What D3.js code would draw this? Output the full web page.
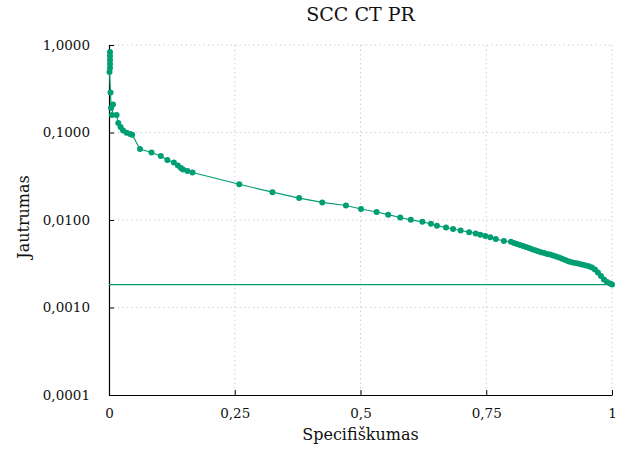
<!DOCTYPE html>
<html>
<head>
<meta charset="utf-8">
<script src="https://cdn.jsdelivr.net/npm/d3@7"></script>
<style>
  body { margin: 0; background: #fff; }
  svg text { font-family: "DejaVu Serif", "Liberation Serif", serif; fill: #111; }
  .grid line { stroke: #d0d0d0; stroke-dasharray: 1.5,3; }
</style>
</head>
<body>
<svg id="target"></svg>
<script>
// PR curve values
let specificity = [0.002, 0.002, 0.002, 0.002, 0.002, 0.001, 0.003, 0.004, 0.008, 0.006, 0.015,
  0.0185, 0.023, 0.028, 0.035, 0.042, 0.046, 0.0616, 0.0845, 0.103, 0.116, 0.129, 0.137, 0.143,
  0.147, 0.156, 0.166, 0.259, 0.325, 0.378, 0.424, 0.471, 0.501, 0.532, 0.555, 0.579, 0.600,
  0.623, 0.640, 0.652, 0.670, 0.684, 0.699, 0.716, 0.729, 0.738, 0.748, 0.758, 0.769, 0.785,
  0.799, 0.805, 0.811, 0.817, 0.823, 0.829, 0.835, 0.841, 0.847, 0.853, 0.859, 0.865, 0.871,
  0.877, 0.883, 0.889, 0.895, 0.901, 0.907, 0.913, 0.918, 0.924, 0.930, 0.936, 0.942, 0.948,
  0.954, 0.960, 0.966, 0.972, 0.978, 0.984, 0.990, 0.996, 1.0];
let sensitivity = [0.83, 0.75, 0.674, 0.607, 0.546, 0.491, 0.286, 0.19, 0.209, 0.158, 0.158,
  0.128, 0.1156, 0.1054, 0.0995, 0.0961, 0.0944, 0.0648, 0.0591, 0.0539, 0.0485, 0.0454, 0.0420,
  0.0393, 0.0378, 0.0363, 0.0349, 0.0256, 0.0208, 0.0178, 0.0159, 0.01465, 0.01336, 0.01234,
  0.0115, 0.01068, 0.01005, 0.00954, 0.00907, 0.00861, 0.00821, 0.00789, 0.00759, 0.00726,
  0.00701, 0.00679, 0.00656, 0.00634, 0.00607, 0.00575, 0.00565, 0.00546, 0.00532, 0.00518,
  0.00505, 0.00491, 0.00479, 0.00464, 0.00451, 0.00439, 0.00428, 0.0042, 0.00409, 0.00403,
  0.00393, 0.00383, 0.00373, 0.00361, 0.00349, 0.00338, 0.00331, 0.00325, 0.0032, 0.00314,
  0.00308, 0.00302, 0.00296, 0.00286, 0.00272, 0.00251, 0.00229, 0.00209, 0.00196, 0.00188,
  0.00183];
let baseline = 0.00183;
let xTicks = [0, 0.25, 0.5, 0.75, 1];
let xTickLabels = ["0", "0,25", "0,5", "0,75", "1"];
let yTicks = [0.0001, 0.001, 0.01, 0.1, 1];
let yTickLabels = ["0,0001", "0,0010", "0,0100", "0,1000", "1,0000"];

let margin = {top: 45, right: 15, bottom: 60, left: 109},
    width = 627 - margin.left - margin.right,
    height = 455 - margin.top - margin.bottom;
let color = "#009e73";
let serif = "DejaVu Serif";

function main() {
    let svg = d3.select("#target")
        .attr("width", 627)
        .attr("height", 455)
        .append("g")
        .attr("transform", "translate(" + margin.left + "," + margin.top + ")");

    let x = d3.scaleLinear().domain([0, 1]).range([0, 503]);
    let y = d3.scaleLog().domain([0.0001, 1]).range([height, 0]);

    // Grid lines
    let grid = svg.append("g").attr("class", "grid");
    grid.selectAll(".gx").data(xTicks.slice(1)).enter().append("line")
        .attr("x1", d => x(d)).attr("x2", d => x(d))
        .attr("y1", 0).attr("y2", height);
    grid.selectAll(".gy").data(yTicks.slice(1)).enter().append("line")
        .attr("x1", 0).attr("x2", x(1))
        .attr("y1", d => y(d)).attr("y2", d => y(d));

    // X axis (ticks pointing inward)
    let xAxis = svg.append("g")
        .attr("transform", "translate(0," + height + ")")
        .call(d3.axisBottom(x).tickValues(xTicks)
            .tickFormat((d, i) => xTickLabels[i])
            .tickSizeInner(-5).tickSizeOuter(0).tickPadding(13));
    xAxis.attr("font-family", serif);
    xAxis.select(".domain").attr("stroke", "#000").attr("stroke-width", 1.2);
    xAxis.selectAll("text").attr("font-size", 13.5).attr("fill", "#111");

    // Y axis
    let yAxis = svg.append("g")
        .call(d3.axisLeft(y).tickValues(yTicks)
            .tickFormat((d, i) => yTickLabels[i])
            .tickSizeInner(-5).tickSizeOuter(0).tickPadding(19));
    yAxis.attr("font-family", serif);
    yAxis.select(".domain").attr("stroke", "#000").attr("stroke-width", 1.2);
    yAxis.selectAll("text").attr("font-size", 13.5).attr("fill", "#111");

    // Axis labels and title
    svg.append("text")
        .attr("text-anchor", "middle")
        .attr("x", x(0.5))
        .attr("y", height + 45)
        .attr("font-size", 16)
        .text("Specifiškumas");
    svg.append("text")
        .attr("text-anchor", "middle")
        .attr("transform", "rotate(-90)")
        .attr("x", -height / 2 + 3)
        .attr("y", -margin.left + 29)
        .attr("font-size", 16)
        .text("Jautrumas");
    svg.append("text")
        .attr("text-anchor", "middle")
        .attr("x", x(0.5))
        .attr("y", -24)
        .attr("font-size", 19)
        .text("SCC CT PR");

    // Baseline
    svg.append("line")
        .attr("x1", x(0)).attr("x2", x(1))
        .attr("y1", y(baseline)).attr("y2", y(baseline))
        .attr("stroke", color).attr("stroke-width", 1.2);

    let data = specificity.map((s, i) => ({x: s, y: sensitivity[i]}));

    svg.append("path")
        .datum(data)
        .attr("fill", "none")
        .attr("stroke", color)
        .attr("stroke-width", 1.2)
        .attr("d", d3.line().x(d => x(d.x)).y(d => y(d.y)));

    svg.append("g")
        .selectAll("circle")
        .data(data)
        .enter()
        .append("circle")
        .attr("cx", d => x(d.x))
        .attr("cy", d => y(d.y))
        .attr("r", 3)
        .attr("fill", color);
}
main();
</script>
</body>
</html>
